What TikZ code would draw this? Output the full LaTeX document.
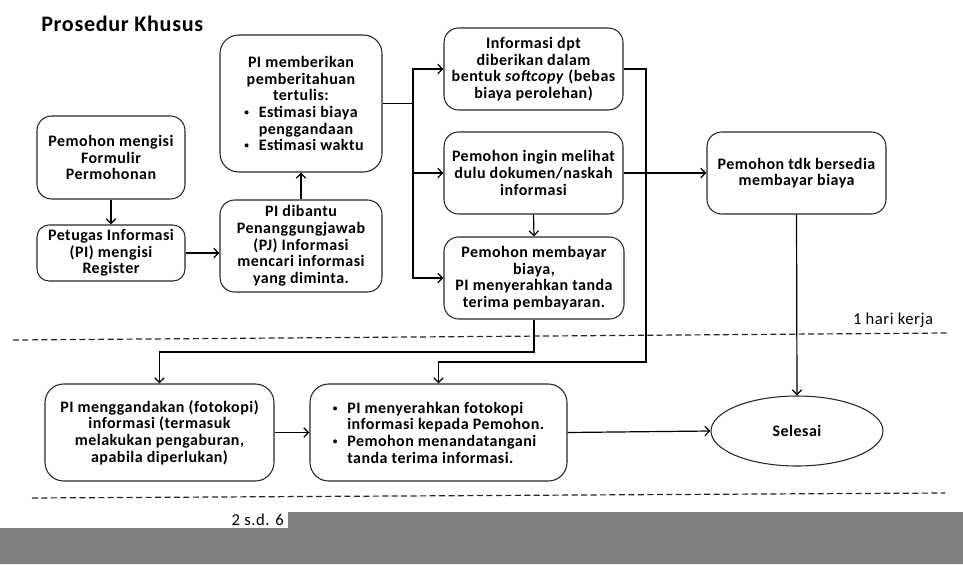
\documentclass[tikz,border=0pt]{standalone}
\usepackage{fontspec}
\usepackage{calc}
\setmainfont{Carlito}[LetterSpace=3]
\usetikzlibrary{arrows.meta,shapes.geometric}
\tikzset{
  box/.style={draw=black!85, line width=0.8pt, rounded corners=11pt, align=center,
    inner sep=0pt, font=\bfseries\fontsize{12}{12.5}\selectfont},
  conn/.style={line width=0.9pt, -{Straight Barb[length=3.6pt,width=7pt]}},
  plain/.style={line width=0.9pt},
  sep/.style={line width=0.9pt, dash pattern=on 4.5pt off 2.6pt, black!85},
  lbl/.style={font=\fontsize{12.5}{14}\selectfont, inner sep=0pt}
}
\newcommand{\bull}{\makebox[0.9em][l]{\raisebox{0.12em}{\fontsize{7}{7}\selectfont\textbullet}}}
\newcommand{\bli}{\hspace*{0.9em}}
\newcommand{\bl}[2]{\makebox[\widthof{#1}][l]{#2}}
\begin{document}
\begin{tikzpicture}[x=0.75pt,y=-0.75pt]
\useasboundingbox (0,0) rectangle (963,564);
% gray band
\fill[fill={rgb,255:red,128;green,128;blue,128}] (0,528) -- (288,528) -- (288,512) -- (963,512) -- (963,564) -- (0,564) -- cycle;
% title
\node[anchor=west, inner sep=0pt, font=\bfseries\fontsize{16.6}{20}\selectfont] (title) at (41,24) {Prosedur Khusus};
% boxes
\node[box, minimum width=111pt, minimum height=62.25pt] (A) at (111,157.5) {Pemohon mengisi\\Formulir\\Permohonan};
\node[box, minimum width=111pt, minimum height=42pt, rounded corners=9pt] (B) at (111,253) {Petugas Informasi\\(PI) mengisi\\Register};
\node[box, minimum width=121.5pt, minimum height=69pt] (C) at (301,246) {PI dibantu\\Penanggungjawab\\(PJ) Informasi\\mencari informasi\\yang diminta.};
\node[box, minimum width=121.5pt, minimum height=102.75pt, rounded corners=14pt] (D) at (301,103.5) {PI memberikan\\pemberitahuan\\tertulis:\\\bl{\bull Estimasi biaya}{\bull Estimasi biaya}\\\bl{\bull Estimasi biaya}{\bli penggandaan}\\\bl{\bull Estimasi biaya}{\bull Estimasi waktu}};
\node[box, minimum width=134.25pt, minimum height=61.5pt] (E) at (533.5,69) {Informasi dpt\\diberikan dalam\\bentuk \textit{softcopy} (bebas\\biaya perolehan)};
\node[box, minimum width=134.25pt, minimum height=61.5pt] (F) at (533.5,173) {Pemohon ingin melihat\\dulu dokumen/naskah\\informasi};
\node[box, minimum width=135pt, minimum height=61.5pt] (G) at (534,278) {Pemohon membayar\\biaya,\\PI menyerahkan tanda\\terima pembayaran.};
\node[box, minimum width=134.25pt, minimum height=61.5pt] (J) at (796.5,173) {Pemohon tdk bersedia\\membayar biaya};
\node[box, minimum width=171.75pt, minimum height=72.75pt, rounded corners=14pt] (H) at (159.5,432.5) {PI menggandakan (fotokopi)\\informasi (termasuk\\melakukan pengaburan,\\apabila diperlukan)};
\node[box, minimum width=192.75pt, minimum height=72.75pt, rounded corners=14pt] (I) at (438.5,432.5) {\bl{\bli informasi kepada Pemohon.}{\bull PI menyerahkan fotokopi}\\\bl{\bli informasi kepada Pemohon.}{\bli informasi kepada Pemohon.}\\\bl{\bli informasi kepada Pemohon.}{\bull Pemohon menandatangani}\\\bl{\bli informasi kepada Pemohon.}{\bli tanda terima informasi.}};
\node[box, ellipse, rounded corners=0pt, minimum width=129pt, minimum height=52.5pt] (S) at (797,431) {Selesai};
% coordinates
\coordinate (split) at (413,103.5);
\coordinate (e1) at (646,362);
\coordinate (g1) at (534,352);
% connectors
\draw[conn] (A.south) -- (B.north);
\draw[conn] (B.east) -- (B.east -| C.west);
\draw[conn] (C.north) -- (D.south);
\draw[plain] (D.east) -- (split);
\draw[conn] (split) |- (E.west);
\draw[conn] (split) |- (F.west);
\draw[conn] (split) |- (G.west);
\draw[conn] (F.south) -- (G.north);
\draw[conn] (F.east) -- (J.west);
\draw[conn] (E.east) -| (e1) -| (I.north);
\draw[conn] (G.south) -- (g1) -| (H.north);
\draw[conn] (J.south) -- (S.north);
\draw[conn] (H.east) -- (I.west);
\draw[conn] (I.east) -- (S.west);
% separators
\coordinate (d1a) at (13,340);
\coordinate (d1b) at (947,333);
\coordinate (d2a) at (32,498);
\coordinate (d2b) at (945,493);
\draw[sep] (d1a) -- (d1b);
\draw[sep] (d2a) -- (d2b);
% labels
\node[lbl] (k1) at (893,320) {1 hari kerja};
\node[lbl, anchor=east] (k2) at (284,520) {2 s.d. 6};
\end{tikzpicture}
\end{document}
